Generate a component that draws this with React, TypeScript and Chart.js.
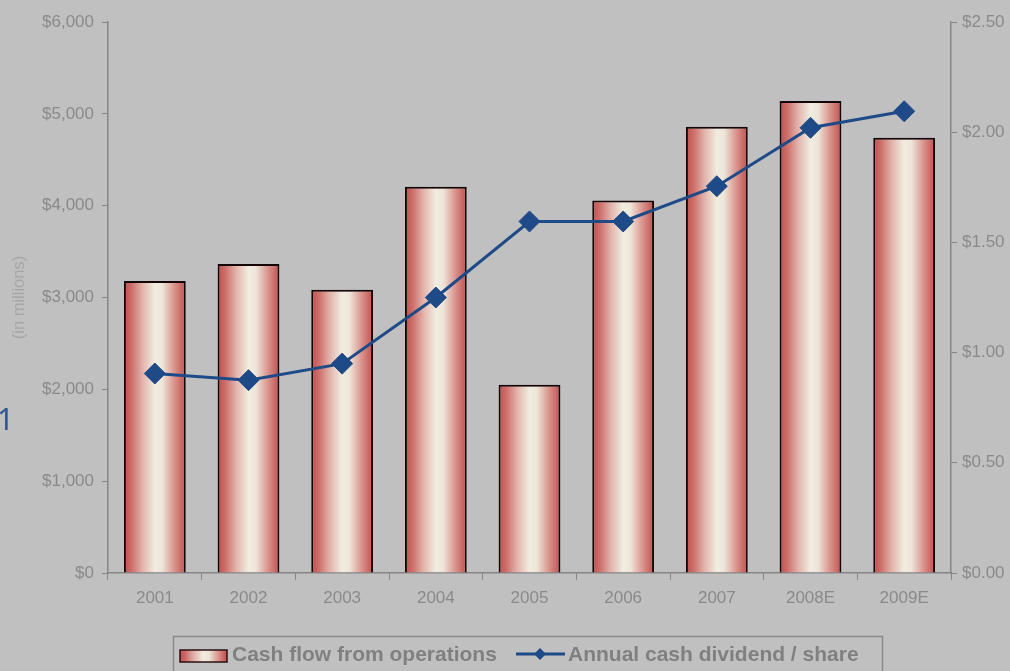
import React, { useEffect, useRef } from "react";
import { Chart, registerables } from "chart.js";

Chart.register(...registerables);

const categories = ["2001", "2002", "2003", "2004", "2005", "2006", "2007", "2008E", "2009E"];
const cashFlow = [3180, 3365, 3085, 4205, 2050, 4055, 4860, 5140, 4740];
const dividend = [0.905, 0.875, 0.95, 1.25, 1.595, 1.595, 1.755, 2.02, 2.095];
const leftTicks = [0, 1000, 2000, 3000, 4000, 5000, 6000];
const rightTicks = [0, 0.5, 1, 1.5, 2, 2.5];

const BG = "#c0c0c0";
const TICK_COLOR = "#8a8a8a";
const AXIS_COLOR = "#858585";
const LINE_COLOR = "#1f4a88";
const FONT = "'Liberation Sans', Arial, sans-serif";
const BAR_FRACTION = 0.66;

function barGradient(c: CanvasRenderingContext2D, x0: number, x1: number) {
  const g = c.createLinearGradient(x0, 0, x1, 0);
  g.addColorStop(0, "#c0504d");
  g.addColorStop(0.12, "#cd6d69");
  g.addColorStop(0.3, "#e2b3ab");
  g.addColorStop(0.5, "#f1ede1");
  g.addColorStop(0.62, "#ede5d8");
  g.addColorStop(0.82, "#d9918b");
  g.addColorStop(1, "#c0504d");
  return g;
}

const legendPlugin = {
  id: "customLegend",
  afterDraw(chart: any) {
    const c: CanvasRenderingContext2D = chart.ctx;
    c.save();
    c.strokeStyle = "#8a8a8a";
    c.lineWidth = 1.5;
    c.strokeRect(173.5, 636.5, 709, 50);
    // bar icon
    c.fillStyle = barGradient(c, 180, 227);
    c.fillRect(180, 650, 47, 12);
    c.strokeStyle = "#2a1010";
    c.lineWidth = 1.5;
    c.strokeRect(180, 650, 47, 12);
    c.font = `bold 21px ${FONT}`;
    c.fillStyle = "#808080";
    c.textBaseline = "middle";
    c.fillText("Cash flow from operations", 232, 655);
    // line icon
    c.strokeStyle = LINE_COLOR;
    c.lineWidth = 3;
    c.beginPath();
    c.moveTo(516, 654);
    c.lineTo(565, 654);
    c.stroke();
    c.fillStyle = LINE_COLOR;
    c.beginPath();
    c.moveTo(540, 648);
    c.lineTo(546, 654);
    c.lineTo(540, 660);
    c.lineTo(534, 654);
    c.closePath();
    c.fill();
    c.fillStyle = "#808080";
    c.fillText("Annual cash dividend / share", 568, 655);
    c.restore();
  },
};

const bgPlugin = {
  id: "bg",
  beforeDraw(chart: any) {
    const c = chart.ctx;
    c.save();
    c.fillStyle = BG;
    c.fillRect(0, 0, chart.width, chart.height);
    c.restore();
  },
};

export default function App() {
  const ref = useRef<HTMLCanvasElement | null>(null);

  useEffect(() => {
    if (!ref.current) return;
    const chart = new Chart(ref.current, {
      data: {
        labels: categories,
        datasets: [
          {
            type: "line" as const,
            label: "Annual cash dividend / share",
            data: dividend,
            yAxisID: "y1",
            borderColor: LINE_COLOR,
            backgroundColor: LINE_COLOR,
            borderWidth: 3,
            pointStyle: "rectRot",
            pointRadius: 10.5,
            pointBorderWidth: 1,
            pointBackgroundColor: LINE_COLOR,
            pointBorderColor: LINE_COLOR,
            tension: 0,
            order: 0,
          },
          {
            type: "bar" as const,
            label: "Cash flow from operations",
            data: cashFlow,
            yAxisID: "y",
            backgroundColor: (ctx: any) => {
              const ch = ctx.chart;
              const xs = ch.scales && ch.scales.x;
              if (!xs || ctx.type !== "data") return "#c0504d";
              const cx = xs.getPixelForValue(ctx.dataIndex);
              const w = (xs.width / categories.length) * BAR_FRACTION;
              if (!isFinite(cx) || !isFinite(w) || w <= 0) return "#c0504d";
              return barGradient(ch.ctx, cx - w / 2, cx + w / 2);
            },
            borderColor: "#140606",
            borderWidth: { top: 2, left: 2, right: 2, bottom: 0 },
            borderSkipped: false,
            categoryPercentage: 1,
            barPercentage: BAR_FRACTION,
            order: 1,
          },
        ],
      },
      options: {
        responsive: false,
        animation: false,
        layout: { padding: { top: 22, left: 0, right: 0, bottom: 0 } },
        plugins: {
          legend: { display: false },
          tooltip: { enabled: false },
        },
        scales: {
          x: {
            offset: true,
            grid: {
              offset: true,
              drawOnChartArea: false,
              drawTicks: true,
              tickLength: 7,
              color: AXIS_COLOR,
            },
            border: { display: true, color: AXIS_COLOR, width: 1.5 },
            ticks: {
              color: TICK_COLOR,
              font: { family: FONT, size: 17 },
              padding: 8,
              maxRotation: 0,
            },
            afterFit: (s: any) => {
              s.height = 98;
            },
          },
          y: {
            position: "left",
            min: 0,
            max: 6000,
            afterBuildTicks: (s: any) => {
              s.ticks = leftTicks.map((v) => ({ value: v }));
            },
            grid: {
              drawOnChartArea: false,
              tickLength: 6,
              color: AXIS_COLOR,
            },
            border: { display: true, color: AXIS_COLOR, width: 1.5 },
            ticks: {
              color: TICK_COLOR,
              font: { family: FONT, size: 17 },
              padding: 8,
              callback: (v: any) => "$" + Number(v).toLocaleString("en-US"),
            },
            title: {
              display: true,
              text: "(in millions)",
              color: "#a6a6a6",
              font: { family: FONT, size: 16.5 },
              padding: { top: 10, bottom: 0 },
            },
            afterFit: (s: any) => {
              s.width = 108;
            },
          },
          y1: {
            position: "right",
            min: 0,
            max: 2.5,
            afterBuildTicks: (s: any) => {
              s.ticks = rightTicks.map((v) => ({ value: v }));
            },
            grid: {
              drawOnChartArea: false,
              tickLength: 6,
              color: AXIS_COLOR,
            },
            border: { display: true, color: AXIS_COLOR, width: 1.5 },
            ticks: {
              color: TICK_COLOR,
              font: { family: FONT, size: 17 },
              padding: 5,
              callback: (v: any) => "$" + Number(v).toFixed(2),
            },
            afterFit: (s: any) => {
              s.width = 59;
            },
          },
        },
      },
      plugins: [bgPlugin, legendPlugin],
    } as any);
    return () => chart.destroy();
  }, []);

  return (
    <div
      style={{
        position: "fixed",
        left: 0,
        top: 0,
        width: 1010,
        height: 671,
        background: BG,
        overflow: "hidden",
      }}
    >
      <canvas ref={ref} width={1010} height={671} style={{ display: "block" }} />
      <div
        style={{
          position: "absolute",
          left: -3,
          top: 400,
          fontFamily: "'Noto Sans', sans-serif",
          fontSize: 30,
          lineHeight: "38px",
          color: "#2f5597",
        }}
      >
        1
      </div>
    </div>
  );
}
